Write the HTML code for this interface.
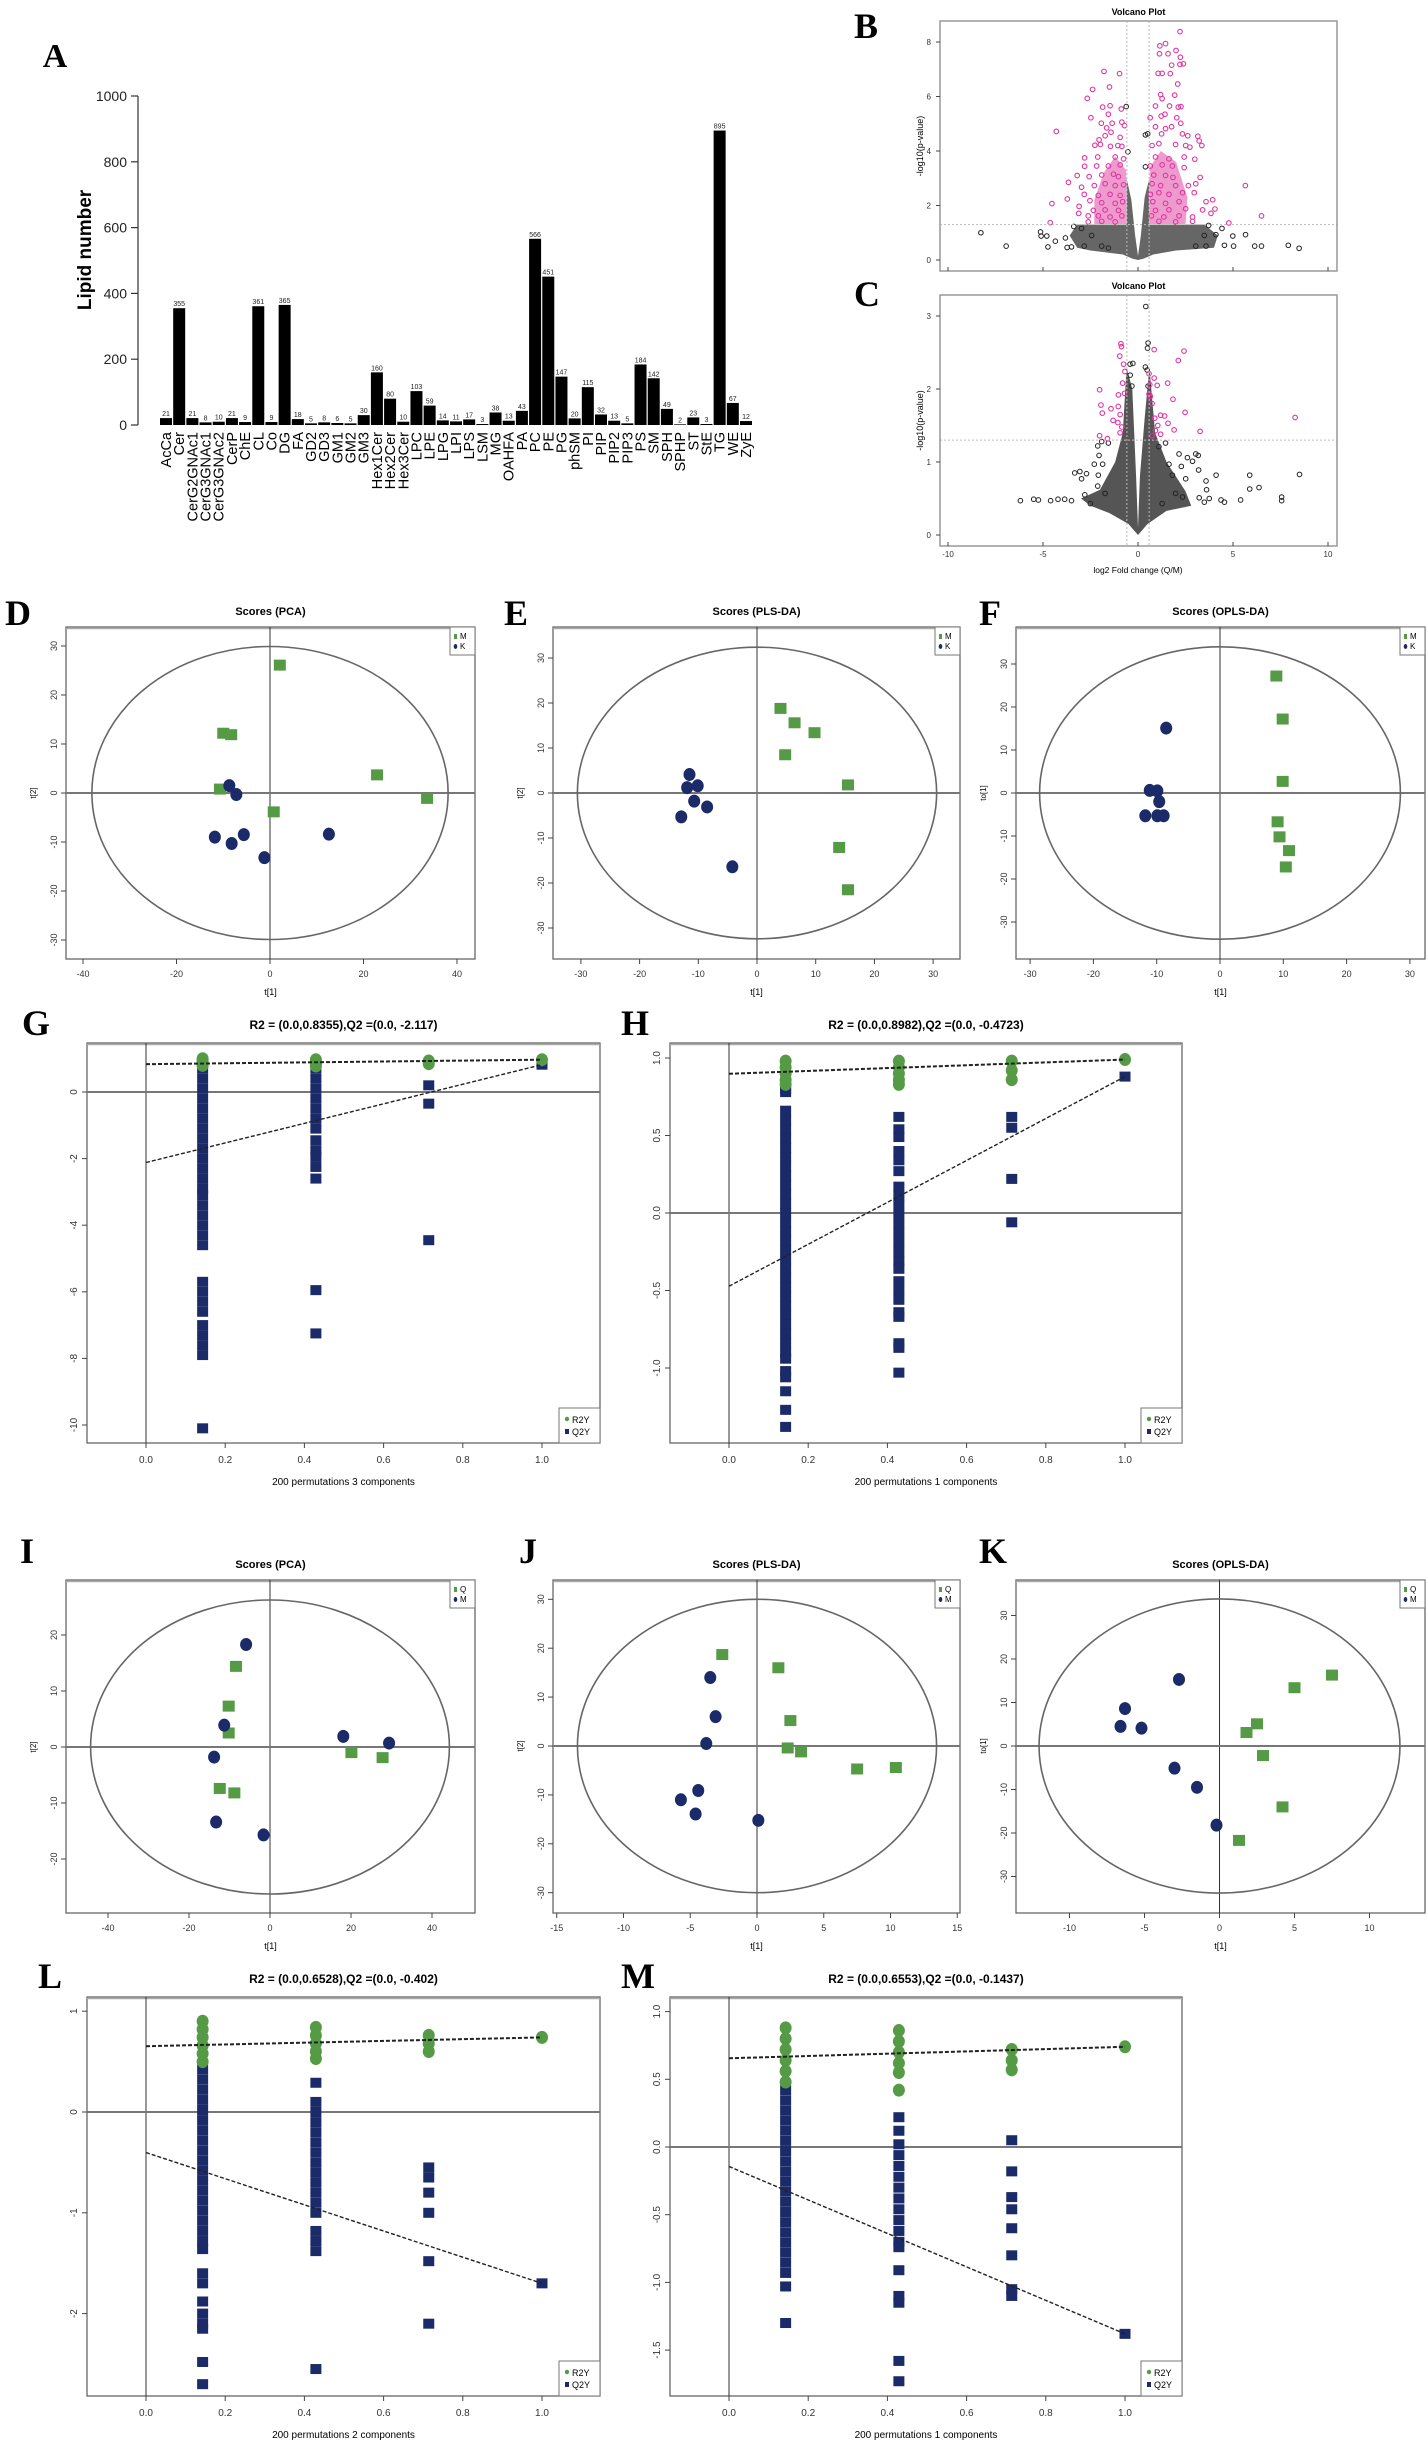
<!DOCTYPE html>
<html><head><meta charset="utf-8"><title>Lipidomics figure</title>
<style>
html,body{margin:0;padding:0;background:#fff;}
svg{display:block;font-family:"Liberation Sans Narrow","Liberation Sans",sans-serif;}
.lt{font-family:"Liberation Serif",serif;font-weight:bold;}
</style></head>
<body>
<svg id="fig" xmlns="http://www.w3.org/2000/svg" width="1428" height="2447" viewBox="0 0 1428 2447">
<rect x="0" y="0" width="1428" height="2447" fill="#fff"/>
<text class="lt" x="55" y="67" font-size="34" text-anchor="middle">A</text>
<text class="lt" x="866" y="38" font-size="36" text-anchor="middle">B</text>
<text class="lt" x="867" y="306" font-size="36" text-anchor="middle">C</text>
<text class="lt" x="18" y="625" font-size="36" text-anchor="middle">D</text>
<text class="lt" x="516" y="625" font-size="36" text-anchor="middle">E</text>
<text class="lt" x="990" y="625" font-size="36" text-anchor="middle">F</text>
<text class="lt" x="36" y="1035" font-size="36" text-anchor="middle">G</text>
<text class="lt" x="635" y="1035" font-size="36" text-anchor="middle">H</text>
<text class="lt" x="27" y="1563" font-size="36" text-anchor="middle">I</text>
<text class="lt" x="528" y="1563" font-size="36" text-anchor="middle">J</text>
<text class="lt" x="993" y="1563" font-size="36" text-anchor="middle">K</text>
<text class="lt" x="50" y="1988" font-size="36" text-anchor="middle">L</text>
<text class="lt" x="638" y="1988" font-size="36" text-anchor="middle">M</text>
</svg>
<script>
// ---------- DATA: panel A ----------
const lipidClasses=["AcCa","Cer","CerG2GNAc1","CerG3GNAc1","CerG3GNAc2","CerP","ChE","CL","Co","DG","FA","GD2","GD3","GM1","GM2","GM3","Hex1Cer","Hex2Cer","Hex3Cer","LPC","LPE","LPG","LPI","LPS","LSM","MG","OAHFA","PA","PC","PE","PG","phSM","PI","PIP","PIP2","PIP3","PS","SM","SPH","SPHP","ST","StE","TG","WE","ZyE"];
const lipidCounts=[21,355,21,8,10,21,9,361,9,365,18,5,8,6,5,30,160,80,10,103,59,14,11,17,3,38,13,43,566,451,147,20,115,32,13,5,184,142,49,2,23,3,895,67,12];
const lipidTicks=[0,200,400,600,800,1000];

// ---------- DATA: volcano plots ----------
const volcXTicks=[-10,-5,0,5,10];
const volcBYTicks=[0,2,4,6,8];
const volcCYTicks=[0,1,2,3];
const volcBSig=[[2.21,8.38],[1.15,7.86],[1.45,7.94],[1.13,7.57],[1.58,7.57],[2.0,7.69],[2.23,7.44],[1.77,7.15],[2.21,7.18],[2.39,7.2],[-1.79,6.92],[-0.97,6.84],[1.06,6.85],[1.27,6.85],[1.7,6.84],[-2.39,6.26],[-1.5,6.35],[2.09,6.46],[-2.67,5.93],[1.19,6.07],[1.93,6.05],[1.27,5.92],[-1.86,5.61],[-1.47,5.66],[-0.88,5.54],[0.92,5.65],[1.66,5.65],[2.12,5.61],[2.26,5.63],[-2.48,5.22],[-1.56,5.35],[0.64,5.22],[1.22,5.28],[1.42,5.35],[2.04,5.22],[-1.93,5.02],[-1.36,5.02],[-0.85,5.06],[2.25,5.02],[-0.71,4.93],[-4.3,4.72],[-1.65,4.85],[-1.42,4.69],[0.92,4.89],[1.45,4.82],[1.77,4.89],[1.24,4.63],[2.34,4.63],[2.62,4.56],[3.15,4.54],[-1.73,4.56],[-0.94,4.5],[-2.05,4.41],[3.22,4.37],[3.36,4.2],[-2.27,4.21],[-1.98,4.24],[-1.45,4.17],[-1.06,4.2],[-0.85,4.17],[0.74,4.2],[1.1,4.27],[1.98,4.24],[2.51,4.2],[2.73,4.14],[-2.81,3.75],[-2.12,3.78],[-1.2,3.78],[-0.76,3.71],[0.92,3.78],[1.63,3.71],[2.43,3.78],[2.99,3.7],[-2.81,3.44],[-2.18,3.45],[-1.56,3.45],[-0.94,3.49],[0.65,3.45],[1.27,3.49],[1.81,3.45],[2.43,3.39],[-3.2,3.1],[-2.57,3.06],[-1.91,3.12],[-1.29,3.15],[-1.03,3.06],[0.83,3.12],[1.45,3.1],[1.84,3.03],[3.27,3.03],[-3.66,2.85],[-2.97,2.67],[-2.3,2.73],[-1.73,2.8],[-1.2,2.73],[-0.76,2.76],[0.74,2.8],[1.19,2.73],[1.98,2.73],[2.65,2.73],[3.04,2.8],[5.65,2.73],[-2.83,2.41],[-2.09,2.37],[-1.47,2.41],[-0.94,2.37],[0.65,2.41],[1.1,2.47],[1.63,2.41],[2.34,2.47],[2.96,2.47],[-3.72,2.24],[-2.53,2.18],[-1.91,2.1],[-1.2,2.08],[-0.81,2.14],[0.78,2.14],[1.45,2.08],[2.16,2.14],[3.58,2.14],[3.93,2.21],[-4.53,2.07],[-3.1,1.97],[-2.35,1.82],[-1.73,1.84],[-1.03,1.82],[0.92,1.82],[1.63,1.84],[2.51,1.88],[3.4,1.84],[4.05,1.87],[-3.12,1.71],[-2.62,1.62],[-2.09,1.62],[-1.47,1.58],[-0.85,1.62],[0.71,1.62],[1.36,1.58],[2.16,1.62],[2.87,1.58],[3.84,1.71],[6.5,1.62],[-4.62,1.37],[-2.62,1.4],[-1.91,1.42],[-1.2,1.4],[1.1,1.42],[1.98,1.4],[2.87,1.42],[4.78,1.36]];
const volcBNs=[[-8.27,1.0],[-6.94,0.51],[-5.13,1.03],[-5.1,0.88],[-4.8,0.88],[-4.74,0.48],[-4.35,0.69],[-3.82,0.81],[-3.73,0.46],[-3.38,1.23],[-3.5,0.48],[-2.97,1.16],[-2.83,0.51],[-0.62,5.63],[-0.53,3.97],[0.39,4.59],[0.51,4.63],[0.39,3.42],[4.1,0.93],[4.42,1.16],[4.55,0.54],[4.99,0.88],[5.03,0.51],[5.66,0.93],[6.14,0.51],[6.5,0.51],[7.91,0.54],[8.48,0.43],[3.58,0.51],[3.04,0.51],[3.72,1.27],[3.49,0.9],[-1.91,0.51],[-2.44,0.9],[-1.56,0.44]];
const volcBSigCloudL=[[-2.3,1.32],[-0.62,1.32],[-0.62,3.3],[-1.2,3.8],[-1.8,3.2],[-2.3,2.2]];
const volcBSigCloudR=[[0.62,1.32],[2.5,1.32],[2.6,2.3],[2.0,3.6],[1.2,4.0],[0.62,3.4]];
const volcBNsCloud=[[-3.6,0.9],[-3.2,1.3],[-0.6,1.3],[-0.6,3.0],[-0.35,2.2],[-0.15,0.9],[0,0.15],[0.15,0.9],[0.35,2.3],[0.6,3.0],[0.6,1.3],[3.5,1.3],[4.2,0.9],[4.0,0.45],[2,0.35],[0.8,0.2],[0.3,0.05],[0,0],[-0.3,0.05],[-0.8,0.2],[-2.5,0.35],[-3.2,0.45]];
const volcCSig=[[-0.9,2.62],[-0.87,2.58],[-0.96,2.45],[-0.76,2.34],[-0.69,2.24],[-0.81,2.08],[-2.02,1.99],[-1.03,1.92],[-0.71,1.94],[-1.95,1.78],[-1.42,1.73],[-1.04,1.76],[-0.94,1.65],[-1.88,1.67],[-1.31,1.57],[-1.06,1.54],[-0.85,1.48],[-2.02,1.36],[-1.61,1.32],[-0.94,1.4],[0.85,2.54],[2.42,2.52],[2.12,2.39],[0.58,2.21],[0.85,2.15],[0.62,2.06],[1.01,2.05],[1.56,2.08],[0.58,1.93],[0.65,1.9],[1.84,1.86],[0.74,1.8],[2.48,1.68],[1.19,1.64],[1.4,1.63],[0.88,1.6],[1.58,1.53],[1.04,1.5],[1.9,1.44],[3.27,1.42],[0.92,1.43],[1.19,1.38],[0.74,1.36],[8.27,1.61]];
const volcCNs=[[0.41,3.13],[0.53,2.63],[0.5,2.56],[-0.42,2.34],[-0.27,2.35],[0.39,2.3],[0.48,2.26],[-0.41,2.19],[-0.32,2.04],[0.53,2.04],[-6.19,0.47],[-5.49,0.49],[-5.24,0.48],[-4.6,0.47],[-4.21,0.49],[-3.86,0.49],[-3.5,0.47],[-3.33,0.85],[-3.06,0.87],[-2.97,0.77],[-2.8,0.55],[-2.71,0.84],[-2.3,0.97],[-2.09,0.82],[-2.05,1.09],[-1.86,0.97],[-2.12,0.67],[-1.73,0.57],[-2.51,0.43],[-2.12,1.22],[-1.91,1.28],[-1.56,1.26],[2.16,1.11],[2.28,0.94],[2.51,0.77],[2.6,1.06],[2.87,1.01],[3.04,1.11],[3.17,1.09],[3.19,0.89],[3.58,0.74],[3.61,0.62],[4.11,0.82],[3.22,0.51],[3.49,0.45],[3.75,0.5],[4.37,0.48],[4.55,0.45],[5.4,0.48],[5.88,0.82],[5.88,0.63],[6.37,0.65],[7.56,0.52],[7.56,0.47],[8.5,0.83],[1.63,0.97],[1.81,0.82],[1.27,0.43],[1.98,0.57],[2.34,0.52],[1.1,1.21],[1.45,1.26]];
const volcCNsCloud=[[-3,0.5],[-2,0.62],[-1.2,1.0],[-0.8,1.4],[-0.6,2.3],[-0.3,2.0],[-0.1,0.8],[0,0.1],[0.1,0.8],[0.35,1.6],[0.6,2.3],[0.9,1.4],[1.5,1.0],[2.5,0.6],[2.8,0.4],[1.5,0.33],[0.5,0.15],[0,0],[-0.5,0.15],[-1.5,0.3],[-2.5,0.4]];

// ---------- DATA: score plots ----------
const dGreenM=[[2.1,26.1],[-10,12.2],[-8.3,11.9],[-10.7,0.8],[22.9,3.7],[33.6,-1.1],[0.8,-3.85]];
const dBlueK=[[-8.7,1.5],[-7.2,-0.3],[-11.8,-9],[-8.2,-10.3],[-5.6,-8.5],[-1.2,-13.2],[12.6,-8.4]];
const eGreenM=[[4.0,18.8],[6.4,15.6],[9.8,13.4],[4.8,8.5],[15.5,1.8],[14.0,-12.1],[15.5,-21.5]];
const eBlueK=[[-11.5,4.1],[-11.9,1.2],[-10.1,1.6],[-10.7,-1.8],[-8.5,-3.1],[-12.9,-5.3],[-4.2,-16.4]];
const fGreenM=[[8.9,27.2],[9.9,17.2],[9.9,2.7],[9.1,-6.7],[9.4,-10.2],[10.9,-13.4],[10.4,-17.2]];
const fBlueK=[[-8.5,15.1],[-11.1,0.6],[-9.9,0.5],[-9.6,-2.0],[-11.8,-5.3],[-9.9,-5.3],[-8.9,-5.3]];
const iGreenQ=[[-8.4,14.4],[-10.2,7.3],[-10.2,2.5],[-12.4,-7.4],[-8.8,-8.2],[20.1,-1.0],[27.8,-1.9]];
const iBlueM=[[-5.9,18.3],[-11.3,3.9],[-13.8,-1.8],[-13.3,-13.4],[-1.6,-15.7],[18.1,1.9],[29.4,0.7]];
const jGreenQ=[[-2.6,18.7],[1.6,16.0],[2.5,5.2],[2.3,-0.4],[3.3,-1.2],[7.5,-4.7],[10.4,-4.4]];
const jBlueM=[[-3.5,14.0],[-3.1,6.0],[-3.8,0.5],[-4.4,-9.1],[-5.7,-11.0],[-4.6,-13.9],[0.1,-15.2]];
const kGreenQ=[[7.5,16.3],[5.0,13.4],[2.5,5.1],[1.8,3.1],[2.9,-2.2],[4.2,-14.0],[1.3,-21.7]];
const kBlueM=[[-2.7,15.3],[-6.3,8.6],[-6.6,4.5],[-5.2,4.1],[-3.0,-5.1],[-1.5,-9.5],[-0.2,-18.2]];
const ellipseD=[38.1,29.9], ellipseE=[30.6,32.4], ellipseF=[28.5,34], ellipseI=[44.3,26.25], ellipseJ=[13.45,30], ellipseK=[12.03,33.8];

// ---------- DATA: permutation tests ----------
const permX=[0.143,0.429,0.714,1.0];
const permXTicks=[0,0.2,0.4,0.6,0.8,1.0];
const gR2=[[1.0,0.95,0.9,0.85,0.8],[0.97,0.9,0.83,0.78],[0.93,0.85],[0.97]];
const gQ2=[[0.7,0.4,0.1,-0.2,-0.5,-0.8,-1.1,-1.4,-1.7,-2.0,-2.3,-2.6,-2.9,-3.1,-3.4,-3.7,-4.0,-4.3,-4.6,-5.7,-6.0,-6.3,-6.6,-7.0,-7.3,-7.6,-7.9,-10.1],[0.7,0.4,0.1,-0.2,-0.5,-0.8,-1.1,-1.45,-1.75,-1.95,-2.25,-2.6,-5.95,-7.25],[0.2,-0.35,-4.45],[0.82]];
const gIntercepts=[0.8355,-2.117];
const hR2=[[0.98,0.94,0.9,0.86,0.83],[0.98,0.94,0.9,0.86,0.83],[0.98,0.92,0.86],[0.99]];
const hQ2=[[0.8,0.78,0.66,0.6,0.54,0.48,0.42,0.36,0.3,0.24,0.18,0.12,0.06,0,-0.06,-0.12,-0.18,-0.24,-0.3,-0.36,-0.42,-0.48,-0.54,-0.6,-0.66,-0.72,-0.78,-0.84,-0.9,-0.94,-1.02,-1.06,-1.15,-1.27,-1.38],[0.62,0.54,0.49,0.4,0.34,0.27,0.17,0.11,0.05,-0.01,-0.07,-0.13,-0.19,-0.25,-0.31,-0.36,-0.44,-0.5,-0.56,-0.64,-0.67,-0.84,-0.87,-1.03],[0.62,0.55,0.22,-0.06],[0.88]];
const hIntercepts=[0.8982,-0.4723];
const lR2=[[0.9,0.82,0.74,0.66,0.58,0.5],[0.84,0.76,0.68,0.6,0.53],[0.76,0.68,0.6],[0.74]];
const lQ2=[[0.42,0.32,0.22,0.12,0.02,-0.08,-0.18,-0.28,-0.38,-0.48,-0.58,-0.68,-0.78,-0.88,-0.98,-1.08,-1.18,-1.28,-1.36,-1.6,-1.7,-1.88,-2.0,-2.1,-2.15,-2.48,-2.7],[0.29,0.1,0,-0.1,-0.2,-0.3,-0.4,-0.5,-0.6,-0.7,-0.8,-0.9,-1.0,-1.18,-1.28,-1.38,-2.55],[-0.55,-0.65,-0.8,-1.0,-1.48,-2.1],[-1.7]];
const lIntercepts=[0.6528,-0.402];
const mR2=[[0.88,0.8,0.72,0.64,0.56,0.48],[0.86,0.78,0.7,0.62,0.55,0.42],[0.72,0.64,0.57],[0.74]];
const mQ2=[[0.42,0.345,0.27,0.195,0.12,0.045,-0.03,-0.105,-0.18,-0.255,-0.33,-0.405,-0.48,-0.555,-0.63,-0.705,-0.78,-0.855,-0.93,-1.03,-1.3],[0.22,0.12,0.02,-0.06,-0.14,-0.22,-0.3,-0.38,-0.46,-0.54,-0.62,-0.7,-0.74,-0.91,-1.1,-1.15,-1.58,-1.73],[0.05,-0.18,-0.37,-0.46,-0.6,-0.8,-1.05,-1.1],[-1.38]];
const mIntercepts=[0.6553,-0.1437];

// ---------- helpers ----------
const NS='http://www.w3.org/2000/svg';
const svg=document.getElementById('fig');
function mk(tag,attrs,parent){const e=document.createElementNS(NS,tag);for(const k in attrs)e.setAttribute(k,attrs[k]);(parent||svg).appendChild(e);return e;}
function tx(x,y,s,attrs,parent){const e=mk('text',Object.assign({x:x,y:y},attrs),parent);e.textContent=s;return e;}
function lin(d0,d1,r0,r1){return v=>r0+(v-d0)*(r1-r0)/(d1-d0);}
function grp(name){const g=mk('g',{});


return g;}
const GREEN='#559a44', NAVY='#1b2a68', MAG='#e0359f';

// ---------- Panel A ----------
(function(){
  const g=grp('lipid-bar-chart');
  const y=lin(0,1000,425,96);
  const step=580/(lipidClasses.length-1);
  const x=i=>166+i*step;
  const ax=mk('line',{x1:138,y1:y(0),x2:138,y2:y(1000),stroke:'#333','stroke-width':1.2},g);
  
  
  lipidTicks.forEach(t=>{
    const tk=mk('line',{x1:131,y1:y(t),x2:138,y2:y(t),stroke:'#333','stroke-width':1.2},g);
    
    
    const tl=tx(127,y(t)+5,String(t),{'font-size':14,'text-anchor':'end',fill:'#222'},g);
    
    
  });
  const yl=tx(0,0,'Lipid number',{'font-size':19,'font-weight':'bold','font-family':'Liberation Sans, sans-serif','text-anchor':'middle',transform:'translate(91,250) rotate(-90)'},g);
  
  
  lipidCounts.forEach((v,i)=>{
    const b=mk('rect',{x:x(i)-6,y:y(v),width:12,height:y(0)-y(v),fill:'#000'},g);
    
    
    const vl=tx(x(i),y(v)-2,String(v),{'font-size':7,'text-anchor':'middle',fill:'#222'},g);
    
    
    const cl=tx(0,0,lipidClasses[i],{'font-size':14.5,'font-family':'Liberation Sans, sans-serif','text-anchor':'end',transform:'translate('+(x(i)+5)+',432) rotate(-90)'},g);
    
    
  });
})();

// ---------- Volcano plots ----------
function volcano(name,frame,ymax,yTicks,yr0,yr1,sig,ns,clouds,showX){
  const g=grp(name);
  const x=lin(-10,10,948,1328);
  const y=lin(0,ymax,yr0,yr1);
  const t=tx((frame[0]+frame[2])/2,frame[1]-6,'Volcano Plot',{'font-size':9,'font-weight':'bold','font-family':'Liberation Sans, sans-serif','text-anchor':'middle'},g);
  
  
  clouds.forEach(c=>{
    const p=mk('polygon',{points:c[0].map(d=>x(d[0])+','+y(d[1])).join(' '),fill:c[1],opacity:c[2]},g);
    
    
  });
  ns.forEach(d=>{
    const c=mk('circle',{cx:x(d[0]),cy:y(d[1]),r:2.3,fill:'none',stroke:'#222','stroke-width':1},g);
    
    
  });
  sig.forEach(d=>{
    const c=mk('circle',{cx:x(d[0]),cy:y(d[1]),r:2.3,fill:'none',stroke:MAG,'stroke-width':1.1},g);
    
    
  });
  [-0.585,0.585].forEach(v=>{
    const l=mk('line',{x1:x(v),y1:frame[1],x2:x(v),y2:frame[3],stroke:'#bbb','stroke-dasharray':'2,2'},g);
    
    
  });
  const hl=mk('line',{x1:frame[0],y1:y(1.3),x2:frame[2],y2:y(1.3),stroke:'#bbb','stroke-dasharray':'2,2'},g);
  
  
  const fr=mk('rect',{x:frame[0],y:frame[1],width:frame[2]-frame[0],height:frame[3]-frame[1],fill:'none',stroke:'#999','stroke-width':1.5},g);
  
  
  yTicks.forEach(v=>{
    const tk=mk('line',{x1:936,y1:y(v),x2:940,y2:y(v),stroke:'#444'},g);
    
    
    const tl=tx(931,y(v)+3,String(v),{'font-size':8,'text-anchor':'end',fill:'#333'},g);
    
    
  });
  volcXTicks.forEach(v=>{
    const tk=mk('line',{x1:x(v),y1:frame[3]-4,x2:x(v),y2:frame[3],stroke:'#444'},g);
    
    
    if(showX){
      const tl=tx(x(v),frame[3]+11,String(v),{'font-size':8,'text-anchor':'middle',fill:'#333'},g);
      
      
    }
  });
  const yl=tx(0,0,'-log10(p-value)',{'font-size':9,'text-anchor':'middle',transform:'translate(923,'+((frame[1]+frame[3])/2)+') rotate(-90)'},g);
  
  
  return g;
}
volcano('volcano-plot-b',[940,21,1337,271],8,volcBYTicks,260,42,volcBSig,volcBNs,[[volcBNsCloud,'#333',0.75],[volcBSigCloudL,MAG,0.5],[volcBSigCloudR,MAG,0.5]],false);
const gC=volcano('volcano-plot-c',[940,295,1337,546],3,volcCYTicks,535,316,volcCSig,volcCNs,[[volcCNsCloud,'#2a2a2a',0.8]],true);
const xlc=tx(1138,573,'log2 Fold change (Q/M)',{'font-size':8.5,'text-anchor':'middle'},gC);



// ---------- Score plots ----------
function scores(name,title,frame,x0,xs,y0,ys,xTicks,yTicks,ell,green,blue,gLab,bLab,yTitle){
  const g=grp(name);
  const x=v=>x0+v*xs, y=v=>y0-v*ys;
  const t=tx((frame[0]+frame[2])/2,frame[1]-12,title,{'font-size':11,'font-weight':'bold','text-anchor':'middle'},g);
  
  
  const fr=mk('rect',{x:frame[0],y:frame[1],width:frame[2]-frame[0],height:frame[3]-frame[1],fill:'none',stroke:'#666','stroke-width':1.3},g);
  
  
  const tb=mk('line',{x1:frame[0],y1:frame[1]+1.5,x2:frame[2],y2:frame[1]+1.5,stroke:'#aaa','stroke-width':1.5},g);
  
  
  const vl=mk('line',{x1:x(0),y1:frame[1],x2:x(0),y2:frame[3],stroke:'#333','stroke-width':1},g);
  
  
  const hl=mk('line',{x1:frame[0],y1:y(0),x2:frame[2],y2:y(0),stroke:'#777','stroke-width':2},g);
  
  
  const el=mk('ellipse',{cx:x(0),cy:y(0),rx:ell[0]*xs,ry:ell[1]*ys,fill:'none',stroke:'#666','stroke-width':1.6},g);
  
  
  xTicks.forEach(v=>{
    const tk=mk('line',{x1:x(v),y1:frame[3],x2:x(v),y2:frame[3]+5,stroke:'#444'},g);
    
    
    const tl=tx(x(v),frame[3]+18,String(v),{'font-size':9,'text-anchor':'middle',fill:'#333'},g);
    
    
  });
  yTicks.forEach(v=>{
    const tk=mk('line',{x1:frame[0]-5,y1:y(v),x2:frame[0],y2:y(v),stroke:'#444'},g);
    
    
    const tl=tx(0,0,String(v),{'font-size':9,'text-anchor':'middle',fill:'#333',transform:'translate('+(frame[0]-9)+','+y(v)+') rotate(-90)'},g);
    
    
  });
  const xt=tx((frame[0]+frame[2])/2,frame[3]+36,'t[1]',{'font-size':9,'text-anchor':'middle'},g);
  
  
  const yt=tx(0,0,yTitle,{'font-size':8,'text-anchor':'middle',transform:'translate('+(frame[0]-30)+','+y(0)+') rotate(-90)'},g);
  
  
  green.forEach(d=>{
    const r=mk('rect',{x:x(d[0])-6,y:y(d[1])-5.5,width:12,height:11,fill:GREEN},g);
    
    
  });
  blue.forEach(d=>{
    const c=mk('ellipse',{cx:x(d[0]),cy:y(d[1]),rx:6,ry:6.5,fill:NAVY},g);
    
    
  });
  const lb=mk('rect',{x:frame[2]-25,y:frame[1],width:25,height:28,fill:'#fff',stroke:'#777'},g);
  
  
  const l1=mk('rect',{x:frame[2]-21,y:frame[1]+7,width:3,height:5,fill:GREEN},g);
  
  
  const t1=tx(frame[2]-15,frame[1]+12,gLab,{'font-size':8},g);
  
  
  const l2=mk('ellipse',{cx:frame[2]-19.5,cy:frame[1]+19.5,rx:1.8,ry:2.5,fill:NAVY},g);
  
  
  const t2=tx(frame[2]-15,frame[1]+22,bLab,{'font-size':8},g);
  
  
}
scores('scores-pca-mk','Scores (PCA)',[66,627,475,959],270,4.675,793,4.9,[-40,-20,0,20,40],[-30,-20,-10,0,10,20,30],ellipseD,dGreenM,dBlueK,'M','K','t[2]');
scores('scores-plsda-mk','Scores (PLS-DA)',[553,627,960,959],757,5.87,793,4.5,[-30,-20,-10,0,10,20,30],[-30,-20,-10,0,10,20,30],ellipseE,eGreenM,eBlueK,'M','K','t[2]');
scores('scores-oplsda-mk','Scores (OPLS-DA)',[1016,627,1425,959],1220,6.33,793,4.3,[-30,-20,-10,0,10,20,30],[-30,-20,-10,0,10,20,30],ellipseF,fGreenM,fBlueK,'M','K','to[1]');
scores('scores-pca-qm','Scores (PCA)',[66,1580,475,1913],270,4.05,1747,5.6,[-40,-20,0,20,40],[-20,-10,0,10,20],ellipseI,iGreenQ,iBlueM,'Q','M','t[2]');
scores('scores-plsda-qm','Scores (PLS-DA)',[553,1580,960,1913],757,13.35,1746,4.89,[-15,-10,-5,0,5,10,15],[-30,-20,-10,0,10,20,30],ellipseJ,jGreenQ,jBlueM,'Q','M','t[2]');
scores('scores-oplsda-qm','Scores (OPLS-DA)',[1016,1580,1425,1913],1219.5,15,1746,4.35,[-10,-5,0,5,10],[-30,-20,-10,0,10,20,30],ellipseK,kGreenQ,kBlueM,'Q','M','to[1]');

// ---------- Permutation plots ----------
function perm(name,title,frame,x0,x1,yZero,yUnit,yTicks,r2,q2,icpt,xlabel,tickFmt){
  const g=grp(name);
  const x=lin(0,1,x0,x1), y=v=>yZero-v*yUnit;
  const t=tx((frame[0]+frame[2])/2,frame[1]-14,title,{'font-size':12,'font-weight':'bold','text-anchor':'middle'},g);
  
  
  const fr=mk('rect',{x:frame[0],y:frame[1],width:frame[2]-frame[0],height:frame[3]-frame[1],fill:'none',stroke:'#666','stroke-width':1.3},g);
  
  
  const tb=mk('line',{x1:frame[0],y1:frame[1]+1.5,x2:frame[2],y2:frame[1]+1.5,stroke:'#aaa','stroke-width':1.5},g);
  
  
  const vl=mk('line',{x1:x(0),y1:frame[1],x2:x(0),y2:frame[3],stroke:'#333','stroke-width':1},g);
  
  
  const hl=mk('line',{x1:frame[0],y1:y(0),x2:frame[2],y2:y(0),stroke:'#777','stroke-width':2},g);
  
  
  permXTicks.forEach(v=>{
    const tk=mk('line',{x1:x(v),y1:frame[3],x2:x(v),y2:frame[3]+5,stroke:'#444'},g);
    
    
    const tl=tx(x(v),frame[3]+20,v.toFixed(1),{'font-size':10,'text-anchor':'middle',fill:'#333'},g);
    
    
  });
  yTicks.forEach(v=>{
    const tk=mk('line',{x1:frame[0]-5,y1:y(v),x2:frame[0],y2:y(v),stroke:'#444'},g);
    
    
    const tl=tx(0,0,tickFmt(v),{'font-size':10,'text-anchor':'middle',fill:'#333',transform:'translate('+(frame[0]-10)+','+y(v)+') rotate(-90)'},g);
    
    
  });
  const xt=tx((frame[0]+frame[2])/2,frame[3]+42,xlabel,{'font-size':10,'text-anchor':'middle'},g);
  
  
  q2.forEach((col,i)=>col.forEach(v=>{
    const r=mk('rect',{x:x(permX[i])-5.5,y:y(v)-5,width:11,height:10,fill:NAVY},g);
    
    
  }));
  r2.forEach((col,i)=>col.forEach(v=>{
    const c=mk('ellipse',{cx:x(permX[i]),cy:y(v),rx:6,ry:6.5,fill:GREEN},g);
    
    
  }));
  const r2End=r2[3][0], q2End=q2[3][0];
  const l1=mk('line',{x1:x(0),y1:y(icpt[0]),x2:x(1),y2:y(r2End),stroke:'#222','stroke-width':2,'stroke-dasharray':'4,2'},g);
  
  
  const l2=mk('line',{x1:x(0),y1:y(icpt[1]),x2:x(1),y2:y(q2End),stroke:'#222','stroke-width':1.4,'stroke-dasharray':'4,2'},g);
  
  
  const lb=mk('rect',{x:frame[2]-41,y:frame[3]-35,width:41,height:35,fill:'#fff',stroke:'#777'},g);
  
  
  const m1=mk('circle',{cx:frame[2]-33,cy:frame[3]-24,r:2.2,fill:GREEN},g);
  
  
  const e1=tx(frame[2]-28,frame[3]-20,'R2Y',{'font-size':9},g);
  
  
  const m2=mk('rect',{x:frame[2]-35,y:frame[3]-14,width:4,height:5,fill:NAVY},g);
  
  
  const e2=tx(frame[2]-28,frame[3]-8,'Q2Y',{'font-size':9},g);
  
  
}
const f0=v=>String(v), f1=v=>v.toFixed(1);
perm('permutation-test-g','R2 = (0.0,0.8355),Q2 =(0.0, -2.117)',[87,1043,600,1443],146,542,1092,33.3,[-10,-8,-6,-4,-2,0],gR2,gQ2,gIntercepts,'200 permutations 3 components',f0);
perm('permutation-test-h','R2 = (0.0,0.8982),Q2 =(0.0, -0.4723)',[670,1043,1182,1443],729,1125,1213,155,[-1.0,-0.5,0,0.5,1.0],hR2,hQ2,hIntercepts,'200 permutations 1 components',f1);
perm('permutation-test-l','R2 = (0.0,0.6528),Q2 =(0.0, -0.402)',[87,1997,600,2396],146,542,2112,100.8,[-2,-1,0,1],lR2,lQ2,lIntercepts,'200 permutations 2 components',f0);
perm('permutation-test-m','R2 = (0.0,0.6553),Q2 =(0.0, -0.1437)',[670,1997,1182,2396],729,1125,2147,135.4,[-1.5,-1.0,-0.5,0,0.5,1.0],mR2,mQ2,mIntercepts,'200 permutations 1 components',f1);
</script>
</body></html>
